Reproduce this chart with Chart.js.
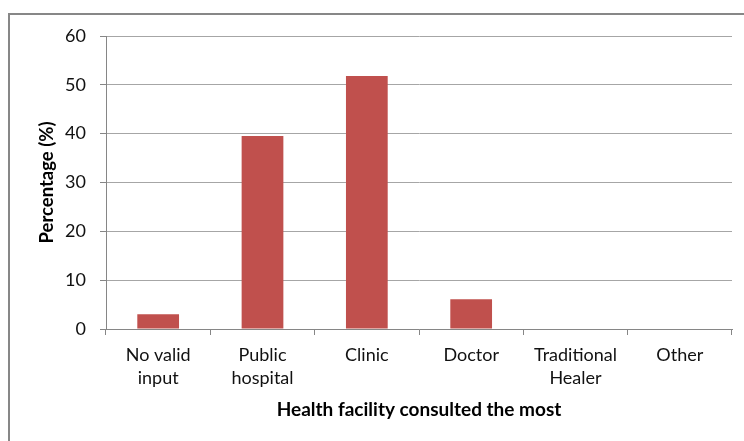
<!DOCTYPE html>
<html lang="en">
<head>
    <meta charset="UTF-8">
    <title>Health facility consulted the most</title>
    <style>
        body {
            margin: 0;
            padding: 0;
            background-color: #ffffff;
            overflow: hidden;
        }
        .frame {
            position: absolute;
            left: 8px;
            top: 13px;
            width: 760px;
            height: 460px;
            border-left: 2px solid #878787;
            border-top: 2px solid #878787;
        }
        #chart {
            position: absolute;
            left: 0;
            top: 0;
        }
    </style>
</head>
<body>
    <div class="frame"></div>
    <canvas id="chart" width="744" height="441"></canvas>

    <script src="https://cdn.jsdelivr.net/npm/chart.js"></script>
    <script>
// data
const categories = [['No valid', 'input'], ['Public', 'hospital'], 'Clinic', 'Doctor', ['Traditional', 'Healer'], 'Other'];
const percentages = [3.0, 39.5, 51.8, 6.1, 0, 0];
const yTicks = [0, 10, 20, 30, 40, 50, 60];

const barColor = '#c0504d';
const gridColor = '#a6a6a6';
const axisColor = '#868686';
const fontFamily = 'Lato, "Open Sans", sans-serif';

const ctx = document.getElementById('chart').getContext('2d');
new Chart(ctx, {
    type: 'bar',
    data: {
        labels: categories,
        datasets: [{
            label: 'Percentage (%)',
            data: percentages,
            backgroundColor: barColor,
            borderWidth: 0,
            barPercentage: 0.4,
            categoryPercentage: 1.0
        }]
    },
    options: {
        responsive: false,
        animation: false,
        devicePixelRatio: 1,
        layout: {
            padding: { left: 30, right: 12, top: 36, bottom: 22 }
        },
        plugins: {
            legend: { display: false },
            tooltip: { enabled: false }
        },
        scales: {
            x: {
                offset: true,
                grid: {
                    offset: true,
                    drawOnChartArea: false,
                    drawTicks: true,
                    tickLength: 6,
                    color: axisColor,
                    tickColor: axisColor
                },
                border: { color: axisColor, width: 1 },
                ticks: {
                    color: '#111',
                    padding: 9,
                    maxRotation: 0,
                    autoSkip: false,
                    font: { family: fontFamily, size: 18, lineHeight: 1.25 }
                },
                title: {
                    display: true,
                    text: 'Health facility consulted the most',
                    color: '#000',
                    padding: 0,
                    font: { family: fontFamily, size: 19, weight: 'bold', lineHeight: 1.0 }
                },
                afterFit: function(scale) {
                    scale.height = 90;
                }
            },
            y: {
                min: 0,
                max: 60,
                afterBuildTicks: function(scale) {
                    scale.ticks = yTicks.map(v => ({ value: v }));
                },
                grid: {
                    color: gridColor,
                    tickColor: axisColor,
                    tickLength: 6,
                    drawTicks: true
                },
                border: { color: axisColor, width: 1 },
                ticks: {
                    color: '#111',
                    padding: 14,
                    font: { family: fontFamily, size: 18 }
                },
                title: {
                    display: true,
                    text: 'Percentage (%)',
                    color: '#000',
                    padding: { top: 8, bottom: 0 },
                    font: { family: fontFamily, size: 18.5, weight: 'bold', lineHeight: 1.0 }
                },
                afterFit: function(scale) {
                    scale.width = 76;
                }
            }
        }
    }
});
    </script>
</body>
</html>
